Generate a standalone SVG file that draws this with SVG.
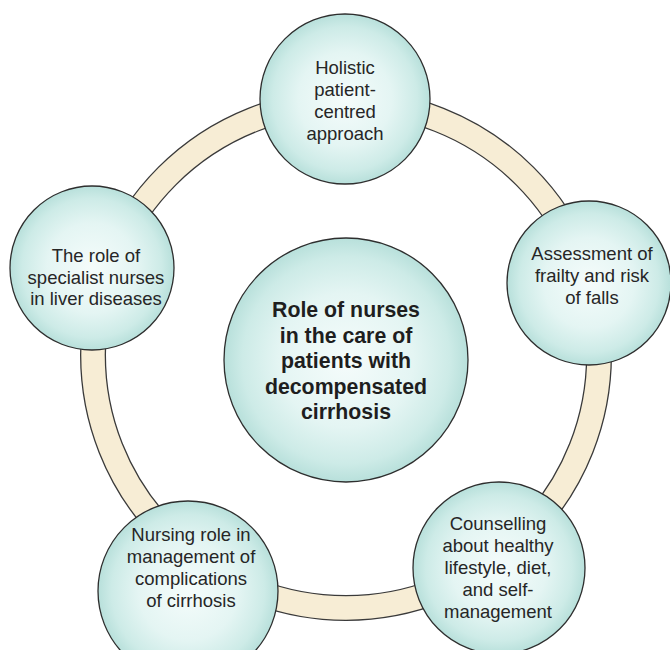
<svg xmlns="http://www.w3.org/2000/svg" width="670" height="650" viewBox="0 0 670 650">
<style>
.node{fill:url(#g);stroke:#2e2e2e;stroke-width:1.3}
.t{font-family:"Liberation Sans",Arial,sans-serif;font-size:18.5px;fill:#262626;text-anchor:middle}
.b{font-family:"Liberation Sans",Arial,sans-serif;font-size:21.3px;font-weight:bold;fill:#1e1e1e;text-anchor:middle}
</style>
<defs>
<radialGradient id="g" cx="0.5" cy="0.5" r="0.5">
<stop offset="0" stop-color="#f5fcfb"/>
<stop offset="0.55" stop-color="#e4f5f3"/>
<stop offset="0.85" stop-color="#cdebe7"/>
<stop offset="1" stop-color="#b8e0db"/>
</radialGradient>
</defs>
<rect width="670" height="650" fill="#ffffff"/>
<g id="connectors">
<circle cx="346" cy="355" r="253" fill="none" stroke="#3a3a3a" stroke-width="26"/>
<circle cx="346" cy="355" r="253" fill="none" stroke="#f7edd5" stroke-width="23.4"/>
</g>
<g id="center">
<circle class="node" cx="346" cy="360" r="122"/>
<text class="b" x="346" y="317">Role of nurses</text>
<text class="b" x="346" y="342.5">in the care of</text>
<text class="b" x="346" y="368">patients with</text>
<text class="b" x="346" y="393.5">decompensated</text>
<text class="b" x="346" y="419">cirrhosis</text>
</g>
<g id="n-holistic">
<circle class="node" cx="345" cy="99" r="85"/>
<text class="t" x="345" y="74">Holistic</text>
<text class="t" x="345" y="96">patient-</text>
<text class="t" x="345" y="118">centred</text>
<text class="t" x="345" y="140">approach</text>
</g>
<g id="n-assessment">
<circle class="node" cx="589" cy="283" r="82"/>
<text class="t" x="592" y="260">Assessment of</text>
<text class="t" x="592" y="282">frailty and risk</text>
<text class="t" x="592" y="304">of falls</text>
</g>
<g id="n-counselling">
<circle class="node" cx="499" cy="568" r="86"/>
<text class="t" x="498" y="530">Counselling</text>
<text class="t" x="498" y="552">about healthy</text>
<text class="t" x="498" y="574">lifestyle, diet,</text>
<text class="t" x="498" y="596">and self-</text>
<text class="t" x="498" y="618">management</text>
</g>
<g id="n-nursing">
<circle class="node" cx="188" cy="591" r="90"/>
<text class="t" x="191" y="541">Nursing role in</text>
<text class="t" x="191" y="563">management of</text>
<text class="t" x="191" y="585">complications</text>
<text class="t" x="191" y="607">of cirrhosis</text>
</g>
<g id="n-specialist">
<circle class="node" cx="92" cy="268" r="82"/>
<text class="t" x="96" y="262">The role of</text>
<text class="t" x="96" y="283.5">specialist nurses</text>
<text class="t" x="96" y="305">in liver diseases</text>
</g>
</svg>
